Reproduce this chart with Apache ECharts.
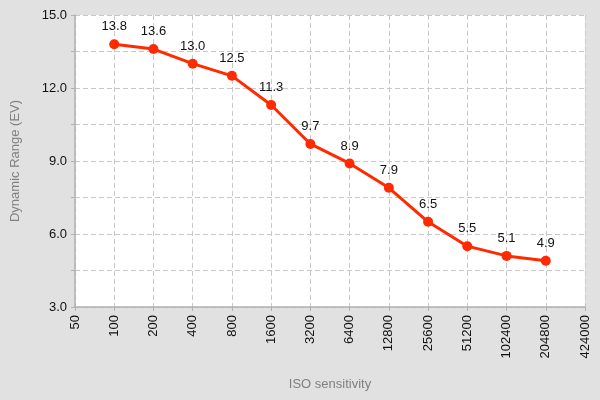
<!DOCTYPE html>
<html>
<head>
<meta charset="utf-8">
<script src="https://cdn.jsdelivr.net/npm/echarts@6/dist/echarts.min.js"></script>
<style>
  html, body { margin: 0; padding: 0; background: #e1e1e1; }
  #chart { width: 600px; height: 400px; }
</style>
</head>
<body>
<div id="chart"></div>
<script>
// ISO steps shown on the x axis (first and last have no measurement)
var isoLabels = ['50', '100', '200', '400', '800', '1600', '3200', '6400', '12800', '25600', '51200', '102400', '204800', '424000']
// dynamic range in EV, '-' = no point
var dynamicRange = ['-', 13.8, 13.6, 13.0, 12.5, 11.3, 9.7, 8.9, 7.9, 6.5, 5.5, 5.1, 4.9, '-']

var chart = echarts.init(document.getElementById('chart'))

chart.setOption({
  backgroundColor: '#e1e1e1',
  textStyle: { fontFamily: 'Liberation Sans, Arial, sans-serif' },
  grid: {
    left: 75,
    right: 15,
    top: 15,
    bottom: 93,
    show: true,
    backgroundColor: '#ffffff',
    borderWidth: 0
  },
  xAxis: {
    type: 'category',
    data: isoLabels,
    boundaryGap: false,
    name: 'ISO sensitivity',
    nameLocation: 'middle',
    nameGap: 71,
    nameTextStyle: { color: '#808080', fontSize: 13 },
    axisLine: { lineStyle: { color: '#b0b0b0', width: 1.5 } },
    axisTick: { show: true, length: 4, alignWithLabel: true, lineStyle: { color: '#b0b0b0' } },
    axisLabel: {
      interval: 0,
      rotate: 90,
      color: '#111',
      fontSize: 13,
      margin: 8
    },
    splitLine: {
      show: true,
      lineStyle: { color: '#c8c8c8', type: [5, 3] }
    }
  },
  yAxis: {
    type: 'value',
    min: 3,
    max: 15,
    interval: 1.5,
    name: 'Dynamic Range (EV)',
    nameLocation: 'middle',
    nameGap: 53,
    nameTextStyle: { color: '#808080', fontSize: 13 },
    axisLine: { show: true, lineStyle: { color: '#b0b0b0', width: 1.5 } },
    axisTick: { show: true, length: 4, lineStyle: { color: '#b0b0b0' } },
    axisLabel: {
      color: '#111',
      fontSize: 13,
      margin: 8,
      formatter: function (v) {
        return (Math.round(v * 10) % 30 === 0) ? v.toFixed(1) : ''
      }
    },
    splitLine: {
      show: true,
      lineStyle: { color: '#c8c8c8', type: [5, 3] }
    }
  },
  series: [{
    type: 'line',
    data: dynamicRange,
    symbol: 'circle',
    symbolSize: 10,
    color: '#ff2a00',
    lineStyle: { color: '#ff2a00', width: 3 },
    itemStyle: { color: '#ff2a00' },
    label: {
      show: true,
      position: 'top',
      distance: 6,
      color: '#111',
      fontSize: 13,
      formatter: function (p) { return p.value.toFixed(1) }
    },
    animation: false
  }]
})
</script>
</body>
</html>
